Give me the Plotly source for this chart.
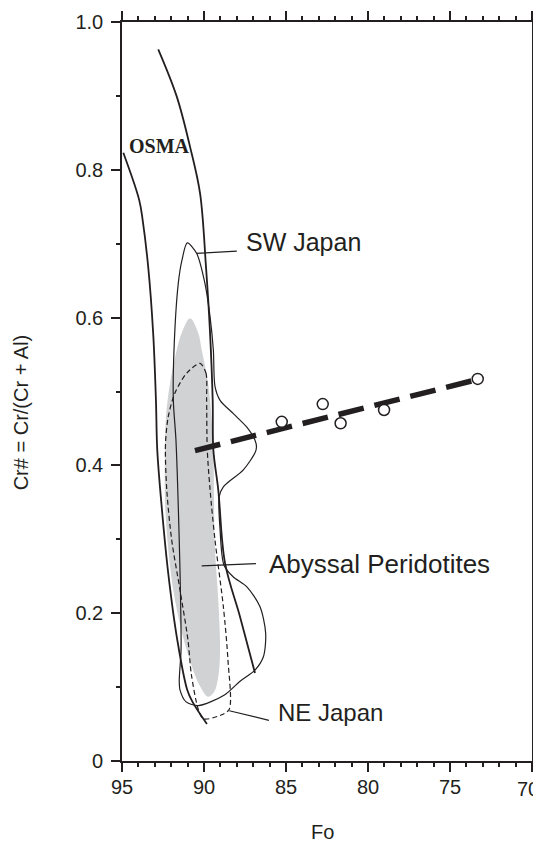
import plotly.graph_objects as go

# ---------------- data ----------------
# OSMA (olivine-spinel mantle array) boundary lines
osma_left_fo = [94.92, 93.95, 93.74, 93.40, 93.10, 92.93, 92.85, 92.58, 92.18, 91.63, 91.02, 90.70, 89.82]
osma_left_cr = [0.823, 0.759, 0.732, 0.668, 0.579, 0.488, 0.421, 0.344, 0.254, 0.164, 0.096, 0.080, 0.050]
osma_right_fo = [92.79, 91.66, 90.85, 90.24, 89.88, 89.63, 89.47, 89.43, 89.13, 88.72, 87.80, 86.89]
osma_right_cr = [0.963, 0.899, 0.831, 0.768, 0.669, 0.579, 0.488, 0.421, 0.367, 0.268, 0.195, 0.119]

# SW Japan field (closed)
sw_fo = [91.02, 90.45, 89.94, 89.63, 89.43, 89.33, 89.02, 88.21, 87.40, 86.89, 86.80, 86.89,
         87.60, 88.82, 89.07, 89.02, 88.78, 88.21, 87.40, 86.59, 86.24, 86.38, 86.89, 87.80,
         88.78, 90.35, 91.09, 91.46, 91.51, 91.40, 91.42, 91.51, 91.71, 91.87, 91.83, 91.57,
         91.34, 91.02]
sw_cr = [0.701, 0.687, 0.646, 0.601, 0.556, 0.507, 0.488, 0.470, 0.452, 0.434, 0.425, 0.417,
         0.394, 0.371, 0.358, 0.313, 0.265, 0.249, 0.236, 0.209, 0.173, 0.141, 0.123, 0.108,
         0.089, 0.075, 0.080, 0.096, 0.108, 0.150, 0.209, 0.299, 0.434, 0.488, 0.556, 0.646,
         0.678, 0.701]

# NE Japan field (closed, dashed)
ne_fo = [90.24, 89.88, 89.84, 89.80, 89.63, 89.33, 88.82, 88.54, 88.46, 88.98, 90.04, 90.35,
         90.77, 90.98, 91.46, 91.97, 92.27, 92.35, 92.18, 91.77, 91.05, 90.24]
ne_cr = [0.538, 0.525, 0.488, 0.421, 0.367, 0.299, 0.209, 0.137, 0.070, 0.062, 0.057, 0.070,
         0.117, 0.164, 0.231, 0.299, 0.367, 0.428, 0.466, 0.498, 0.525, 0.538]

# Abyssal peridotites field (grey)
aby_fo = [90.85, 90.35, 90.14, 89.94, 89.76, 89.63, 89.43, 89.39, 89.33, 89.13, 89.02, 89.13,
          89.39, 89.76, 90.24, 91.05, 91.77, 92.18, 92.38, 92.38, 92.32, 92.07, 91.66, 91.36, 90.85]
aby_cr = [0.599, 0.579, 0.556, 0.535, 0.512, 0.488, 0.421, 0.353, 0.286, 0.218, 0.150, 0.114,
          0.093, 0.087, 0.101, 0.150, 0.218, 0.286, 0.353, 0.421, 0.466, 0.511, 0.556, 0.579, 0.599]

# samples
sample_fo = [85.26, 82.76, 81.67, 79.02, 73.31]
sample_cr = [0.459, 0.483, 0.457, 0.475, 0.517]

# trend line
trend_fo = [90.55, 73.37]
trend_cr = [0.420, 0.516]

# labels and leader lines
label_text = ["OSMA", "SW Japan", "Abyssal Peridotites", "NE Japan"]
label_fo = [94.72, 87.56, 86.18, 85.61]
label_cr = [0.832, 0.702, 0.266, 0.066]
leader_sw_fo, leader_sw_cr = [90.45, 88.00], [0.687, 0.690]
leader_aby_fo, leader_aby_cr = [90.14, 86.83], [0.264, 0.267]
leader_ne_fo, leader_ne_cr = [88.46, 86.04], [0.068, 0.055]

x_ticks = [95, 90, 85, 80, 75, 70]
x_ticktext = ["95", "90", "85", "80", "75", ""]   # "70" is placed separately at the edge
edge_label = "70"
y_ticks = [0, 0.2, 0.4, 0.6, 0.8, 1.0]
y_ticktext = ["0", "0.2", "0.4", "0.6", "0.8", "1.0"]

INK = "#231f20"
TICKFONT = dict(family="Liberation Sans", size=20, color=INK)

fig = go.Figure()

fig.add_trace(go.Scatter(x=aby_fo, y=aby_cr, mode="lines", fill="toself",
                         fillcolor="#d1d2d4", line=dict(width=0, shape="spline", smoothing=1.0),
                         hoverinfo="skip", showlegend=False))
fig.add_trace(go.Scatter(x=ne_fo, y=ne_cr, mode="lines",
                         line=dict(color=INK, width=1.2, dash="5px,3px", shape="spline", smoothing=0.8),
                         showlegend=False))
fig.add_trace(go.Scatter(x=sw_fo, y=sw_cr, mode="lines",
                         line=dict(color=INK, width=1.2, shape="spline", smoothing=0.8),
                         showlegend=False))
fig.add_trace(go.Scatter(x=osma_left_fo, y=osma_left_cr, mode="lines",
                         line=dict(color=INK, width=1.8, shape="spline", smoothing=1.0),
                         showlegend=False))
fig.add_trace(go.Scatter(x=osma_right_fo, y=osma_right_cr, mode="lines",
                         line=dict(color=INK, width=1.8, shape="spline", smoothing=1.0),
                         showlegend=False))
for lx, ly in [(leader_sw_fo, leader_sw_cr), (leader_aby_fo, leader_aby_cr), (leader_ne_fo, leader_ne_cr)]:
    fig.add_trace(go.Scatter(x=lx, y=ly, mode="lines", line=dict(color=INK, width=1.2),
                             showlegend=False))
fig.add_trace(go.Scatter(x=trend_fo, y=trend_cr, mode="lines",
                         line=dict(color=INK, width=5.5, dash="26px,11px"), showlegend=False))
fig.add_trace(go.Scatter(x=sample_fo, y=sample_cr, mode="markers",
                         marker=dict(symbol="circle", size=11, color="white",
                                     line=dict(color=INK, width=1.5)),
                         showlegend=False))

fonts = [dict(family="Liberation Serif", size=20, color=INK),
         dict(family="Liberation Sans", size=25, color=INK),
         dict(family="Liberation Sans", size=26, color=INK),
         dict(family="Liberation Sans", size=24, color=INK)]
labels_bold = [True, False, False, False]
for t, lx, ly, f, b in zip(label_text, label_fo, label_cr, fonts, labels_bold):
    fig.add_annotation(x=lx, y=ly, xref="x", yref="y", text=f"<b>{t}</b>" if b else t,
                       showarrow=False, xanchor="left", yanchor="middle", font=f)

# last x tick label, kept inside the page edge
fig.add_annotation(x=70, y=0, xref="x", yref="paper", text=edge_label, showarrow=False,
                   xanchor="right", yanchor="top", xshift=9, yshift=-15, font=TICKFONT)

# axis titles
fig.add_annotation(x=-0.246, y=0.472, xref="paper", yref="paper", text="Cr# = Cr/(Cr + Al)",
                   textangle=-90, showarrow=False, xanchor="center", yanchor="middle",
                   font=dict(family="Liberation Sans", size=20, color=INK))
fig.add_annotation(x=0.49, y=-0.114, xref="paper", yref="paper", text="Fo",
                   showarrow=False, xanchor="center", yanchor="bottom",
                   font=dict(family="Liberation Sans", size=20, color=INK))

axis_common = dict(showline=True, linecolor=INK, linewidth=1.6, mirror="allticks",
                   ticks="outside", ticklen=9, tickwidth=1.5, tickcolor=INK,
                   showgrid=False, zeroline=False, tickfont=TICKFONT)

fig.update_xaxes(range=[95, 70], tickvals=x_ticks, ticktext=x_ticktext, ticklabelstandoff=-2,
                 minor=dict(dtick=1, ticks="outside", ticklen=4, tickwidth=1.5, tickcolor=INK, showgrid=False),
                 automargin=False, **axis_common)
fig.update_yaxes(range=[0, 1.0], tickvals=y_ticks, ticktext=y_ticktext, ticklabelstandoff=4,
                 minor=dict(dtick=0.1, ticks="outside", ticklen=4, tickwidth=1.5, tickcolor=INK, showgrid=False),
                 automargin=False, **axis_common)

# the page places the figure 8px in from the top-left corner, so the figure is sized
# to end at the window edge
fig.update_layout(width=533, height=838, margin=dict(l=114, r=9, t=14, b=85, autoexpand=False),
                  plot_bgcolor="white", paper_bgcolor="white", showlegend=False)

fig.write_html("out.html")
